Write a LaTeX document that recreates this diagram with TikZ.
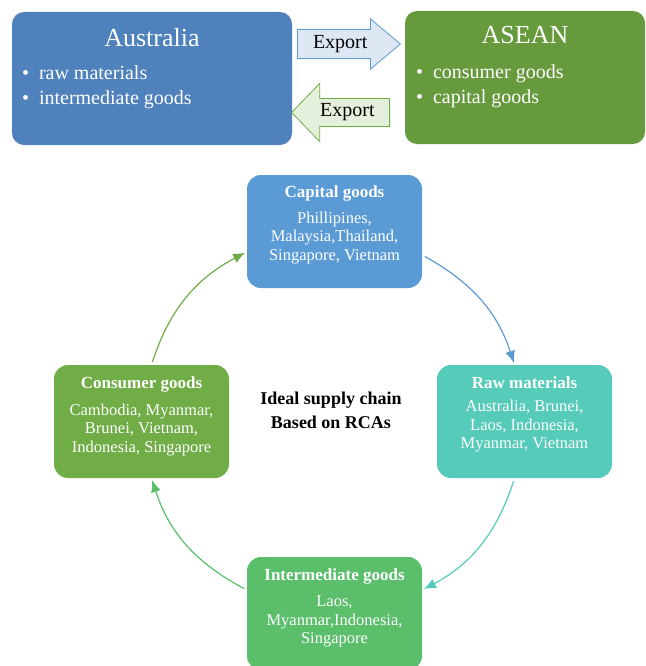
\documentclass[tikz,border=0pt]{standalone}
\usepackage{fontspec}
\setmainfont{Liberation Serif}
\usetikzlibrary{arrows.meta,
                positioning,
                shapes.arrows
            }

\definecolor{ausblue}{RGB}{79,129,189}
\definecolor{aseangreen}{RGB}{103,154,60}
\definecolor{capblue}{RGB}{91,155,213}
\definecolor{rawteal}{RGB}{87,203,185}
\definecolor{intgreen}{RGB}{90,190,107}
\definecolor{consgreen}{RGB}{112,173,71}
\definecolor{exportblue}{RGB}{221,232,244}
\definecolor{exportgreen}{RGB}{228,240,220}

\tikzset{
    region/.style={rounded corners=12pt, minimum width=280pt, minimum height=133pt},
    regiontitle/.style={text=white, inner sep=0pt, font=\fontsize{26}{30}\selectfont},
    regionlist/.style={text=white, inner sep=0pt, align=left, font=\fontsize{20}{25}\selectfont},
    export/.style={single arrow, line width=0.8pt, inner xsep=4pt, inner ysep=5.5pt,
                   font=\fontsize{20}{24}\selectfont},
    goodsbox/.style={rounded corners=14pt, minimum width=175pt, minimum height=113pt},
    goodstitle/.style={text=white, inner sep=0pt, font=\bfseries\fontsize{17}{20}\selectfont},
    goodslist/.style={text=white, inner sep=0pt, align=center, font=\fontsize{16.5}{18.5}\selectfont},
    flow/.style={line width=1.2pt, -{Latex[length=12pt,width=10pt]}, shorten <=3pt, shorten >=2pt}
}

\begin{document}
\begin{tikzpicture}[x=1pt, y=-1pt]
            \useasboundingbox (0,0) rectangle (645,666);
            % trade between the two regions
            \node[region, fill=ausblue] (aus) at (152,78.5) {};
            \node[regiontitle, below=16pt of aus.north] (austitle) {Australia};
            \node[regionlist, anchor=north west] (auslist) at ([xshift=10pt, yshift=-54pt]aus.north west)
                {\textbullet\hspace{10pt}raw materials\\ \textbullet\hspace{10pt}intermediate goods};
            \node[region, minimum width=240pt, fill=aseangreen] (asean) at (525,77.5) {};
            \node[regiontitle, below=15pt of asean.north] (aseantitle) {ASEAN};
            \node[regionlist, anchor=north west] (aseanlist) at ([xshift=11pt, yshift=-54pt]asean.north west)
                {\textbullet\hspace{10pt}consumer goods\\ \textbullet\hspace{10pt}capital goods};
            \node[export, draw=capblue, fill=exportblue, minimum height=103pt,
                  single arrow head extend=10.5pt, single arrow tip angle=80, anchor=tail] (exportright) at (297,44) {Export};
            \node[export, draw=consgreen, fill=exportgreen, minimum height=98pt, inner ysep=5pt,
                  single arrow head extend=15pt, single arrow tip angle=92, shape border rotate=180, anchor=tail] (exportleft) at (390,112.5) {Export};

            % supply chain cycle
            \node[goodsbox, fill=capblue] (cap) at (334.5,231.5) {};
            \node[goodstitle, below=11pt of cap.north] (captitle) {Capital goods};
            \node[goodslist, below=10pt of captitle] (caplist) {Phillipines,\\ Malaysia,Thailand,\\ Singapore, Vietnam};
            \node[goodsbox, fill=rawteal] (raw) at (524.5,421.5) {};
            \node[goodstitle, below=12pt of raw.north] (rawtitle) {Raw materials};
            \node[goodslist, below=11pt of rawtitle] (rawlist) {Australia, Brunei,\\ Laos, Indonesia,\\ Myanmar, Vietnam};
            \node[goodsbox, fill=intgreen] (int) at (334.5,613.5) {};
            \node[goodstitle, below=12pt of int.north] (inttitle) {Intermediate goods};
            \node[goodslist, below=11pt of inttitle] (intlist) {Laos,\\ Myanmar,Indonesia,\\ Singapore};
            \node[goodsbox, fill=consgreen] (cons) at (141.5,421.5) {};
            \node[goodstitle, below=12pt of cons.north] (constitle) {Consumer goods};
            \node[goodslist, below=11pt of constitle] (conslist) {Cambodia, Myanmar,\\ Brunei, Vietnam,\\ Indonesia, Singapore};
            \node[align=center, font=\bfseries\fontsize{18}{24}\selectfont] (caption) at (331,410)
                {Ideal supply chain\\ Based on RCAs};

            \draw[flow, capblue] (cap.-15) to[out=-29, in=108] (raw.100);
            \draw[flow, rawteal] (raw.-100) to[out=-108, in=28] (int.15);
            \draw[flow, intgreen] (int.165) to[out=152, in=-72] (cons.-80);
            \draw[flow, consgreen] (cons.80) to[out=72, in=-152] (cap.193);
        \end{tikzpicture}
\end{document}
